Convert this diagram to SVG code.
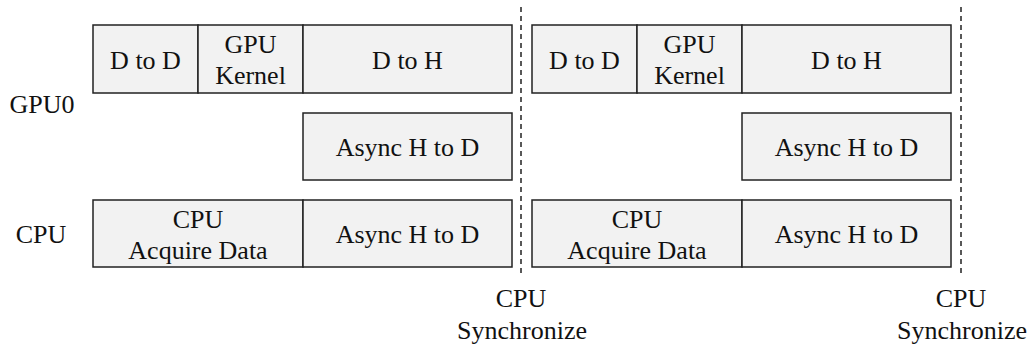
<svg xmlns="http://www.w3.org/2000/svg" width="1030" height="350" viewBox="0 0 1030 350">
  <style>
    .box { fill: #f2f2f2; stroke: #222; stroke-width: 1.5; }
    .lbl { font-family: "Liberation Serif", "Times New Roman", serif; font-size: 26px; fill: #111; text-anchor: middle; }
    .sync { stroke: #222; stroke-width: 1.5; stroke-dasharray: 5 4; fill: none; }
  </style>

  <!-- Row labels -->
  <g id="row-gpu0"><text class="lbl" x="42" y="113">GPU0</text></g>
  <g id="row-cpu"><text class="lbl" x="41" y="243">CPU</text></g>

  <!-- First iteration -->
  <g id="iter1-dtod"><rect class="box" x="93" y="25" width="105" height="68"/><text class="lbl" x="145.5" y="68.5">D to D</text></g>
  <g id="iter1-kernel"><rect class="box" x="198" y="25" width="105" height="68"/><text class="lbl" x="250.5" y="53">GPU</text><text class="lbl" x="250.5" y="84">Kernel</text></g>
  <g id="iter1-dtoh"><rect class="box" x="303" y="25" width="209" height="68"/><text class="lbl" x="407.5" y="68.5">D to H</text></g>
  <g id="iter1-gpu-htod"><rect class="box" x="303" y="113" width="209" height="67"/><text class="lbl" x="407.5" y="156">Async H to D</text></g>
  <g id="iter1-acquire"><rect class="box" x="93" y="200" width="210" height="67"/><text class="lbl" x="198" y="228">CPU</text><text class="lbl" x="198" y="259">Acquire Data</text></g>
  <g id="iter1-cpu-htod"><rect class="box" x="303" y="200" width="209" height="67"/><text class="lbl" x="407.5" y="243">Async H to D</text></g>

  <!-- Second iteration -->
  <g id="iter2-dtod"><rect class="box" x="532" y="25" width="105" height="68"/><text class="lbl" x="584.5" y="68.5">D to D</text></g>
  <g id="iter2-kernel"><rect class="box" x="637" y="25" width="105" height="68"/><text class="lbl" x="689.5" y="53">GPU</text><text class="lbl" x="689.5" y="84">Kernel</text></g>
  <g id="iter2-dtoh"><rect class="box" x="742" y="25" width="209" height="68"/><text class="lbl" x="846.5" y="68.5">D to H</text></g>
  <g id="iter2-gpu-htod"><rect class="box" x="742" y="113" width="209" height="67"/><text class="lbl" x="846.5" y="156">Async H to D</text></g>
  <g id="iter2-acquire"><rect class="box" x="532" y="200" width="210" height="67"/><text class="lbl" x="637" y="228">CPU</text><text class="lbl" x="637" y="259">Acquire Data</text></g>
  <g id="iter2-cpu-htod"><rect class="box" x="742" y="200" width="209" height="67"/><text class="lbl" x="846.5" y="243">Async H to D</text></g>

  <!-- Synchronization markers -->
  <g id="connectors">
    <line class="sync" x1="521" y1="7" x2="521" y2="277"/>
    <line class="sync" x1="961" y1="7" x2="961" y2="277"/>
  </g>
  <g id="sync1"><text class="lbl" x="521" y="307">CPU</text><text class="lbl" x="522" y="339">Synchronize</text></g>
  <g id="sync2"><text class="lbl" x="961" y="307">CPU</text><text class="lbl" x="962" y="339">Synchronize</text></g>
</svg>
